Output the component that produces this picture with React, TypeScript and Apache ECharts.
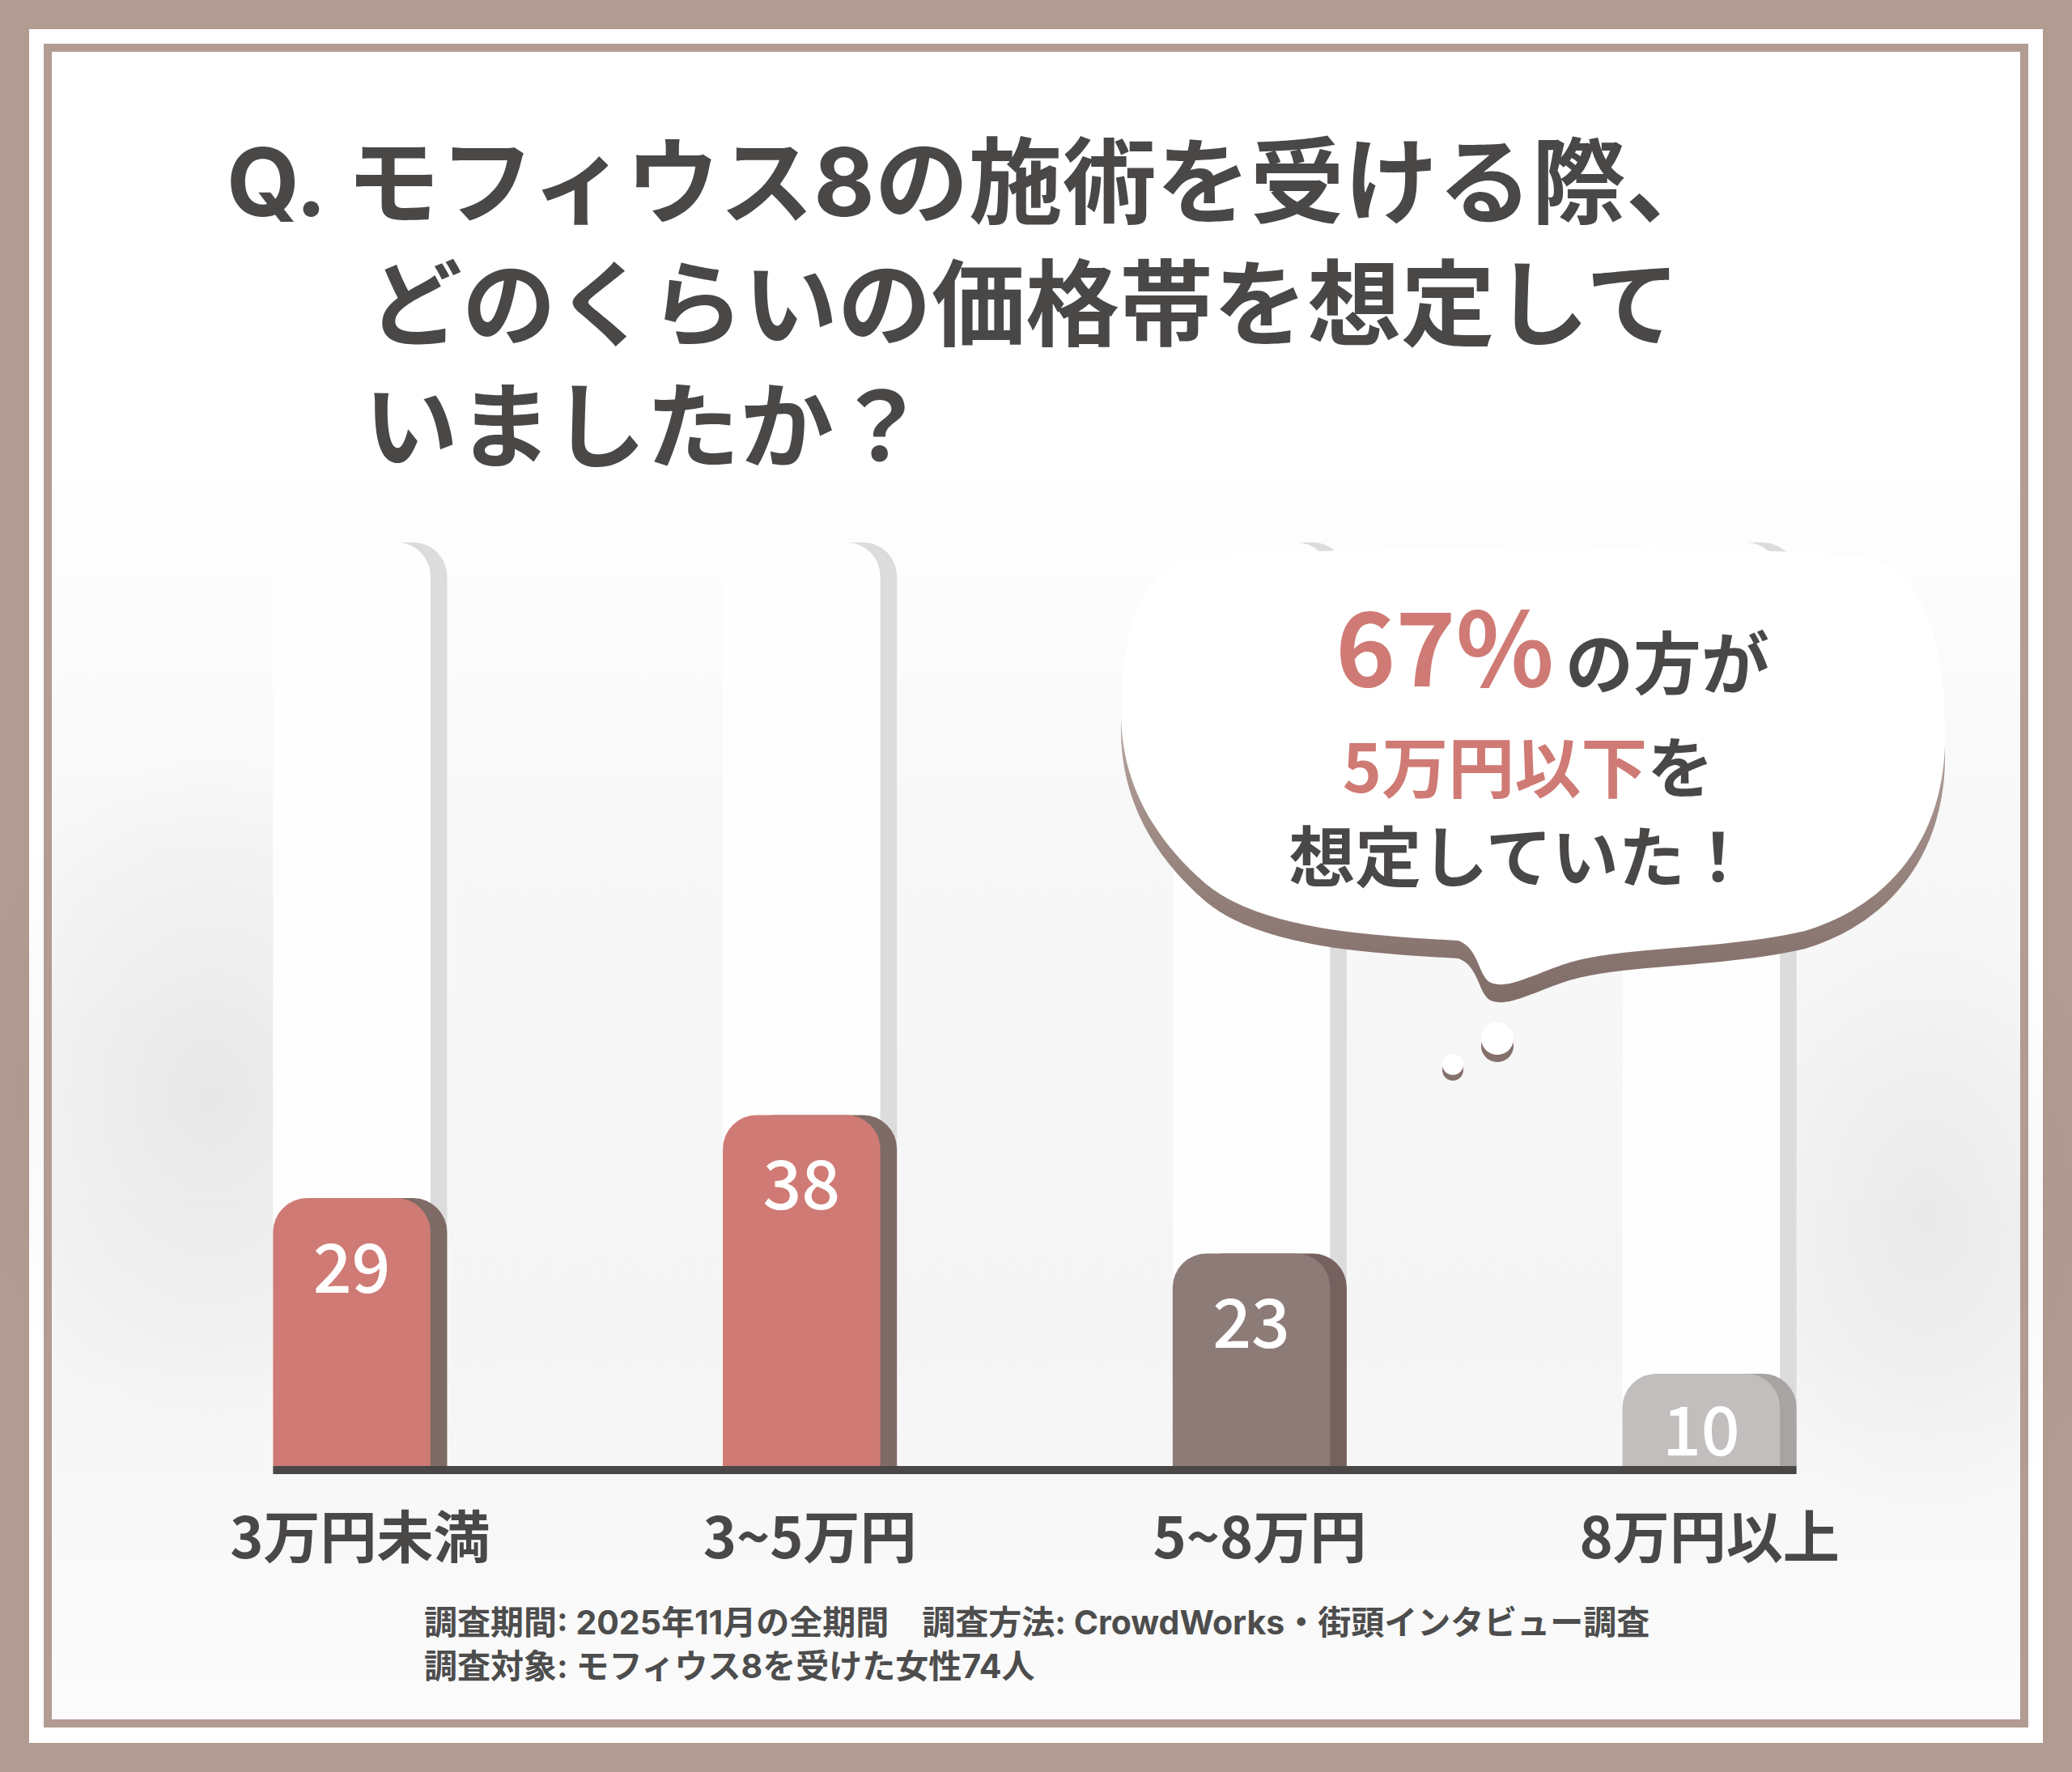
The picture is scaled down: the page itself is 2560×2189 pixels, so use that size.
import * as echarts from 'echarts';
import { useEffect, useRef } from 'react';

const categories = ['3万円未満', '3~5万円', '5~8万円', '8万円以上'];
const values = [29, 38, 23, 10];
const frontColors = ['#cf7a74', '#cf7a74', '#8d7b78', '#c1bebd'];
const sideColors = ['#7f6b65', '#7f6b65', '#75625f', '#a7a4a3'];
const titleLines = ['Q. モフィウス8の施術を受ける際、', 'どのくらいの価格帯を想定して', 'いましたか？'];
const noteLines = [
  '調査期間: 2025年11月の全期間　調査方法: CrowdWorks・街頭インタビュー調査',
  '調査対象: モフィウス8を受けた女性74人',
];
const Y_MAX = 100;

const FONT = "'Noto Sans CJK JP', 'Noto Sans', sans-serif";
// Latin-first stack keeps the line box tight; kana/kanji fall back to Noto CJK
const TIGHT_FONT = "Inter, 'Noto Sans CJK JP', sans-serif";
const DARK = '#4a4747';
const RED = '#cf7a74';
const FRAME = '#b29b92';

// cloud-like speech bubble, page coordinates
const BUBBLE_D =
  'M1470 690 C1700 672 2100 670 2300 688 C2380 700 2405 800 2403 920 C2400 1040 2330 1120 2230 1150 ' +
  'C2120 1175 2000 1168 1930 1192 C1890 1206 1862 1222 1842 1214 C1826 1206 1828 1172 1802 1162 ' +
  'C1700 1156 1560 1150 1490 1092 C1420 1032 1385 960 1385 880 C1385 780 1410 705 1470 690 Z';
echarts.graphic.registerShape('speechBubble', echarts.graphic.extendPath(BUBBLE_D, {}));

export default function App() {
  const chartRef = useRef<HTMLDivElement>(null);

  useEffect(() => {
    document.body.style.margin = '0';
    if (!chartRef.current) return;
    const chart = echarts.init(chartRef.current, undefined, { renderer: 'svg' });

    chart.setOption({
      animation: false,
      backgroundColor: FRAME,
      grid: { left: 167, right: 170, top: 670, bottom: 378 },
      xAxis: {
        type: 'category',
        data: categories,
        axisLine: { show: false },
        axisTick: { show: false },
        axisLabel: {
          fontSize: 70,
          fontWeight: 'bold',
          fontFamily: FONT,
          color: DARK,
          margin: 48,
        },
      },
      yAxis: { type: 'value', min: 0, max: Y_MAX, show: false, splitLine: { show: false } },
      series: [
        {
          type: 'custom',
          data: values.map((v, i) => [i, v]),
          encode: { x: 0, y: 1 },
          z: 5,
          renderItem: (params: any, api: any) => {
            const idx = api.value(0);
            const val = api.value(1);
            const base = api.coord([idx, 0]);
            const top = api.coord([idx, val]);
            const pillarTop = api.coord([idx, Y_MAX]);
            const band = api.size([1, 0])[0];
            const w = band * 0.35;
            const side = band * 0.037;
            const left = base[0] - (w + side) / 2;
            const r = 42;
            const h = base[1] - top[1];
            return {
              type: 'group',
              children: [
                {
                  type: 'rect',
                  shape: { x: left + side, y: pillarTop[1], width: w, height: base[1] - pillarTop[1], r: [r, r, 0, 0] },
                  style: { fill: '#dcdcdc' },
                },
                {
                  type: 'rect',
                  shape: { x: left, y: pillarTop[1], width: w, height: base[1] - pillarTop[1], r: [r, r, 0, 0] },
                  style: { fill: '#fefefe' },
                },
                {
                  type: 'rect',
                  shape: { x: left + side, y: top[1], width: w, height: h, r: [r, r, 0, 0] },
                  style: { fill: sideColors[params.dataIndex] },
                },
                {
                  type: 'rect',
                  shape: { x: left, y: top[1], width: w, height: h, r: [r, r, 0, 0] },
                  style: { fill: frontColors[params.dataIndex] },
                },
                {
                  type: 'text',
                  x: left + w / 2,
                  y: top[1] + Math.min(80, h * 0.57),
                  style: {
                    text: String(val),
                    fill: '#ffffff',
                    fontSize: 84,
                    fontWeight: 500,
                    fontFamily: FONT,
                    align: 'center',
                    verticalAlign: 'middle',
                  },
                },
              ],
            };
          },
        },
      ],
    });

    // baseline spans from first bar to last bar
    const c0 = chart.convertToPixel({ xAxisIndex: 0 }, 0) as number;
    const c1 = chart.convertToPixel({ xAxisIndex: 0 }, 1) as number;
    const cN = chart.convertToPixel({ xAxisIndex: 0 }, categories.length - 1) as number;
    const half = ((c1 - c0) * (0.35 + 0.037)) / 2;
    const x0 = c0 - half;
    const x1 = cN + half;
    const y0 = chart.convertToPixel({ yAxisIndex: 0 }, 0) as number;

    const text = (t: string, x: number, y: number, size: number, fill: string, family = FONT) => ({
      type: 'text',
      x,
      y,
      z: 120,
      style: {
        text: t,
        fill,
        fontSize: size,
        lineHeight: size,
        fontWeight: 'bold',
        fontFamily: family,
        align: 'left',
        textAlign: 'left',
        verticalAlign: 'middle',
        textVerticalAlign: 'middle',
      },
    });

    const richLine = (parts: [string, string, number, number][], x: number, y: number) => ({
      type: 'text',
      x,
      y,
      z: 120,
      style: {
        text: parts.map((p, i) => `{p${i}|${p[0]}}`).join(''),
        rich: Object.fromEntries(
          parts.map((p, i) => [
            `p${i}`,
            {
              fill: p[1],
              color: p[1],
              fontSize: p[2],
              lineHeight: p[2],
              fontWeight: 'bold',
              fontFamily: FONT,
              verticalAlign: 'bottom',
              padding: [0, 0, 0, p[3]],
            },
          ]),
        ),
        align: 'center',
        textAlign: 'center',
        verticalAlign: 'bottom',
        textVerticalAlign: 'bottom',
      },
    });

    chart.setOption({
      graphic: [
        { type: 'rect', z: -100, shape: { x: 36, y: 36, width: 2488, height: 2117 }, style: { fill: '#ffffff' } },
        {
          type: 'rect',
          z: -99,
          shape: { x: 64, y: 560, width: 2432, height: 1564 },
          style: {
            fill: new echarts.graphic.LinearGradient(0, 0, 0, 1, [
              { offset: 0, color: 'rgba(0,0,0,0)' },
              { offset: 0.3, color: 'rgba(0,0,0,0.03)' },
              { offset: 0.7, color: 'rgba(0,0,0,0.04)' },
              { offset: 1, color: 'rgba(0,0,0,0.015)' },
            ]),
          },
        },
        {
          type: 'ellipse',
          z: -98,
          shape: { cx: 260, cy: 1350, rx: 320, ry: 420 },
          style: {
            fill: new echarts.graphic.RadialGradient(0.5, 0.5, 0.5, [
              { offset: 0, color: 'rgba(0,0,0,0.06)' },
              { offset: 1, color: 'rgba(0,0,0,0)' },
            ]),
          },
        },
        {
          type: 'ellipse',
          z: -98,
          shape: { cx: 2380, cy: 1500, rx: 260, ry: 380 },
          style: {
            fill: new echarts.graphic.RadialGradient(0.5, 0.5, 0.5, [
              { offset: 0, color: 'rgba(0,0,0,0.05)' },
              { offset: 1, color: 'rgba(0,0,0,0)' },
            ]),
          },
        },
        {
          type: 'rect',
          z: -90,
          shape: { x: 59, y: 59, width: 2442, height: 2070 },
          style: { fill: 'none', stroke: FRAME, lineWidth: 10 },
        },
        // baseline
        {
          type: 'rect',
          z: 50,
          shape: { x: x0, y: y0, width: x1 - x0, height: 10 },
          style: { fill: DARK },
        },
        // speech bubble
        {
          type: 'speechBubble',
          z: 100,
          x: 0,
          y: 22,
          style: {
            fill: new echarts.graphic.LinearGradient(0, 0, 0, 1, [
              { offset: 0, color: '#d6cac6' },
              { offset: 0.6, color: '#a08c86' },
              { offset: 1, color: '#806c67' },
            ]),
          },
        },
        { type: 'speechBubble', z: 101, x: 0, y: 0, style: { fill: '#ffffff' } },
        { type: 'circle', z: 100, shape: { cx: 1850, cy: 1292, r: 20 }, style: { fill: '#84706b' } },
        { type: 'circle', z: 101, shape: { cx: 1850, cy: 1283, r: 20 }, style: { fill: '#ffffff' } },
        { type: 'circle', z: 100, shape: { cx: 1795, cy: 1322, r: 13 }, style: { fill: '#84706b' } },
        { type: 'circle', z: 101, shape: { cx: 1795, cy: 1315, r: 13 }, style: { fill: '#ffffff' } },
        richLine([['67%', RED, 126, 0], ['の方が', DARK, 84, 14]], 1918, 856),
        richLine([['5万円以下', RED, 82, 0], ['を', DARK, 82, 0]], 1888, 984),
        richLine([['想定していた！', DARK, 82, 0]], 1878, 1094),
        // title
        text(titleLines[0], 280, 225, 116, DARK, TIGHT_FONT),
        text(titleLines[1], 455, 376, 116, DARK, TIGHT_FONT),
        text(titleLines[2], 450, 527, 116, DARK, TIGHT_FONT),
        // notes
        text(noteLines[0], 524, 2004, 41, '#4d4d4d', TIGHT_FONT),
        text(noteLines[1], 524, 2058, 41, '#4d4d4d', TIGHT_FONT),
      ],
    });

    return () => chart.dispose();
  }, []);

  return <div ref={chartRef} style={{ width: 2560, height: 2189 }} />;
}
